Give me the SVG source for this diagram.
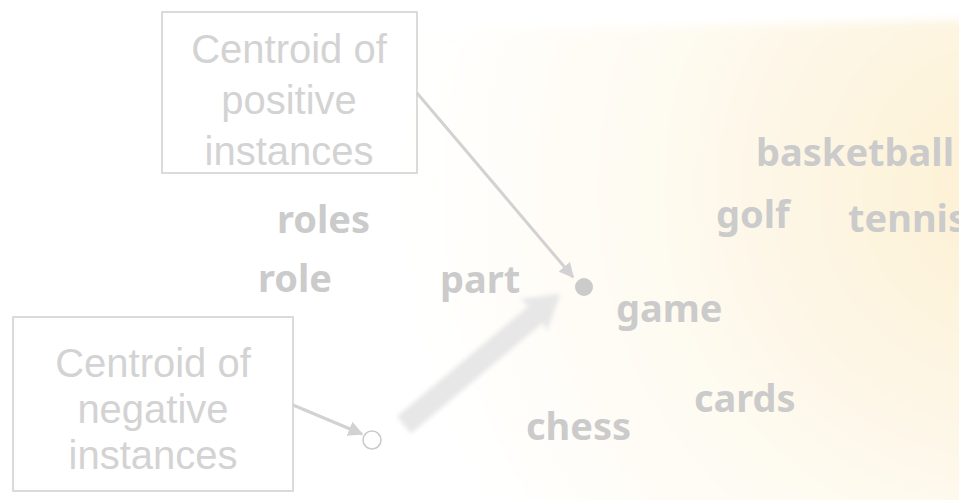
<svg xmlns="http://www.w3.org/2000/svg" width="959" height="500" viewBox="0 0 959 500">
  <defs>
    <radialGradient id="glowFill" gradientUnits="userSpaceOnUse" cx="1010" cy="190" r="620">
      <stop offset="0" stop-color="#fdf1d2"/>
      <stop offset="0.3" stop-color="#fdf5e2"/>
      <stop offset="0.6" stop-color="#fefbf2"/>
      <stop offset="1" stop-color="#ffffff"/>
    </radialGradient>
    <filter id="soft" x="-10%" y="-10%" width="120%" height="120%">
      <feGaussianBlur stdDeviation="5"/>
    </filter>
    <filter id="haze" x="-20%" y="-20%" width="140%" height="140%">
      <feGaussianBlur stdDeviation="2"/>
    </filter>
    <marker id="tip" viewBox="0 0 10 10" refX="9" refY="5" markerWidth="5" markerHeight="5" markerUnits="strokeWidth" orient="auto">
      <path d="M0,0 L10,5 L0,10 Z" fill="#d2d2d2"/>
    </marker>
    <style>
      .box { fill: none; stroke: #d3d3d3; stroke-width: 1.6; }
      .boxtext { font-family: "Liberation Sans", Arial, sans-serif; font-size: 40px; fill: #d3d3d3; text-anchor: middle; }
      .word { font-family: "Noto Sans", "DejaVu Sans", sans-serif; font-weight: bold; font-size: 38px; fill: #cbcbcb; }
      .link { fill: none; stroke: #d2d2d2; stroke-width: 3; }
    </style>
  </defs>

  <!-- page background and warm glow on the right -->
  <rect x="0" y="0" width="959" height="500" fill="#ffffff"/>
  <path d="M300,34 L980,20 L980,540 L300,540 Z" fill="url(#glowFill)" filter="url(#soft)"/>

  <!-- word labels -->
  <g id="word-basketball"><text class="word" x="756" y="166">basketball</text></g>
  <g id="word-golf"><text class="word" x="716" y="228">golf</text></g>
  <g id="word-tennis"><text class="word" x="848" y="232">tennis</text></g>
  <g id="word-roles"><text class="word" x="277" y="233">roles</text></g>
  <g id="word-role"><text class="word" x="258" y="292">role</text></g>
  <g id="word-part"><text class="word" x="440" y="293">part</text></g>
  <g id="word-game"><text class="word" x="616" y="322">game</text></g>
  <g id="word-cards"><text class="word" x="694" y="412">cards</text></g>
  <g id="word-chess"><text class="word" x="526" y="440">chess</text></g>

  <!-- centroids -->
  <g id="centroid-positive"><circle cx="584" cy="287" r="9" fill="#cbcbcb"/></g>
  <g id="centroid-negative"><circle cx="372" cy="440" r="9" fill="#ffffff" stroke="#cbcbcb" stroke-width="1.6"/></g>

  <!-- callout boxes -->
  <g id="label-positive">
    <rect class="box" x="162" y="12" width="255" height="161"/>
    <text class="boxtext" x="289" y="63">Centroid of</text>
    <text class="boxtext" x="289" y="114">positive</text>
    <text class="boxtext" x="289" y="165">instances</text>
  </g>
  <g id="label-negative">
    <rect class="box" x="13" y="317" width="280" height="174"/>
    <text class="boxtext" x="153" y="377">Centroid of</text>
    <text class="boxtext" x="153" y="423">negative</text>
    <text class="boxtext" x="153" y="469">instances</text>
  </g>

  <!-- connectors -->
  <g id="connectors">
    <line class="link" x1="417" y1="93" x2="573" y2="277" marker-end="url(#tip)"/>
    <line class="link" x1="293" y1="405" x2="362" y2="434" marker-end="url(#tip)"/>
    <!-- broad shift arrow from negative toward positive centroid -->
    <g filter="url(#haze)" transform="translate(404,425) rotate(-40)">
      <path d="M0,-11 L172,-11 L170,-22 L204,0 L170,20 L172,11 L0,11 Z" fill="#e7e7e7"/>
    </g>
  </g>
</svg>
